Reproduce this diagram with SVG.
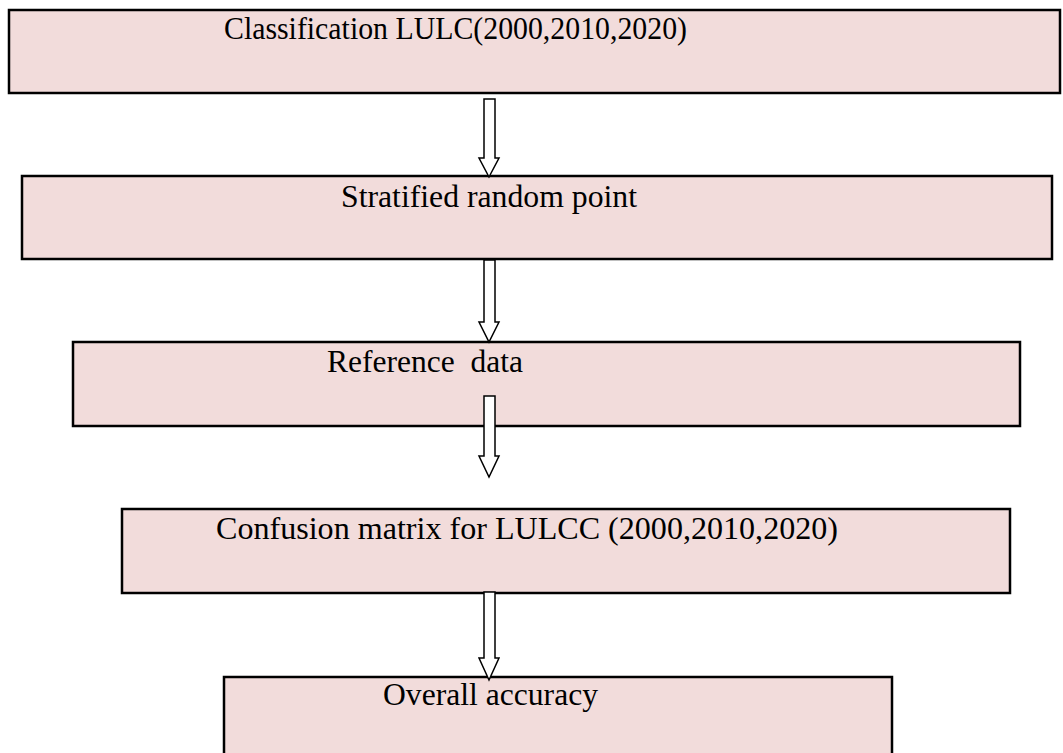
<svg xmlns="http://www.w3.org/2000/svg" width="1063" height="753" viewBox="0 0 1063 753">
<style>
.box{fill:#f2dcdb;stroke:#000;stroke-width:2.5}
.lbl{font-family:"Liberation Serif","Times New Roman",serif;font-size:31px;fill:#000}
.arr{fill:#fff;stroke:#000;stroke-width:1.5;stroke-linejoin:miter}
</style>
<rect x="0" y="0" width="1063" height="753" fill="#fff"/>
<g id="node1"><rect class="box" x="9" y="10" width="1051" height="83"/><text class="lbl" x="224" y="39" textLength="463" lengthAdjust="spacingAndGlyphs">Classification LULC(2000,2010,2020)</text></g>
<g id="node2"><rect class="box" x="22" y="176" width="1030" height="83"/><text class="lbl" x="341" y="207" textLength="296" lengthAdjust="spacingAndGlyphs">Stratified random point</text></g>
<g id="node3"><rect class="box" x="73" y="342" width="947" height="84"/><text class="lbl" x="327" y="372" xml:space="preserve" textLength="196" lengthAdjust="spacingAndGlyphs">Reference  data</text></g>
<g id="node4"><rect class="box" x="122" y="509" width="888" height="84"/><text class="lbl" x="216" y="539" textLength="622" lengthAdjust="spacingAndGlyphs">Confusion matrix for LULCC (2000,2010,2020)</text></g>
<g id="node5"><rect class="box" x="224" y="677" width="668" height="90"/><text class="lbl" x="383" y="705" textLength="215" lengthAdjust="spacingAndGlyphs">Overall accuracy</text></g>
<g id="connectors">
<polygon class="arr" points="484,99 495,99 495,158 499,158 489,177 479,158 484,158"/>
<polygon class="arr" points="484,260 495,260 495,322 499,322 489,342 479,322 484,322"/>
<polygon class="arr" points="484,396 495,396 495,456 499,456 489,477 479,456 484,456"/>
<polygon class="arr" points="484,592 495,592 495,658 499,658 489,680 479,658 484,658"/>
</g>
</svg>
